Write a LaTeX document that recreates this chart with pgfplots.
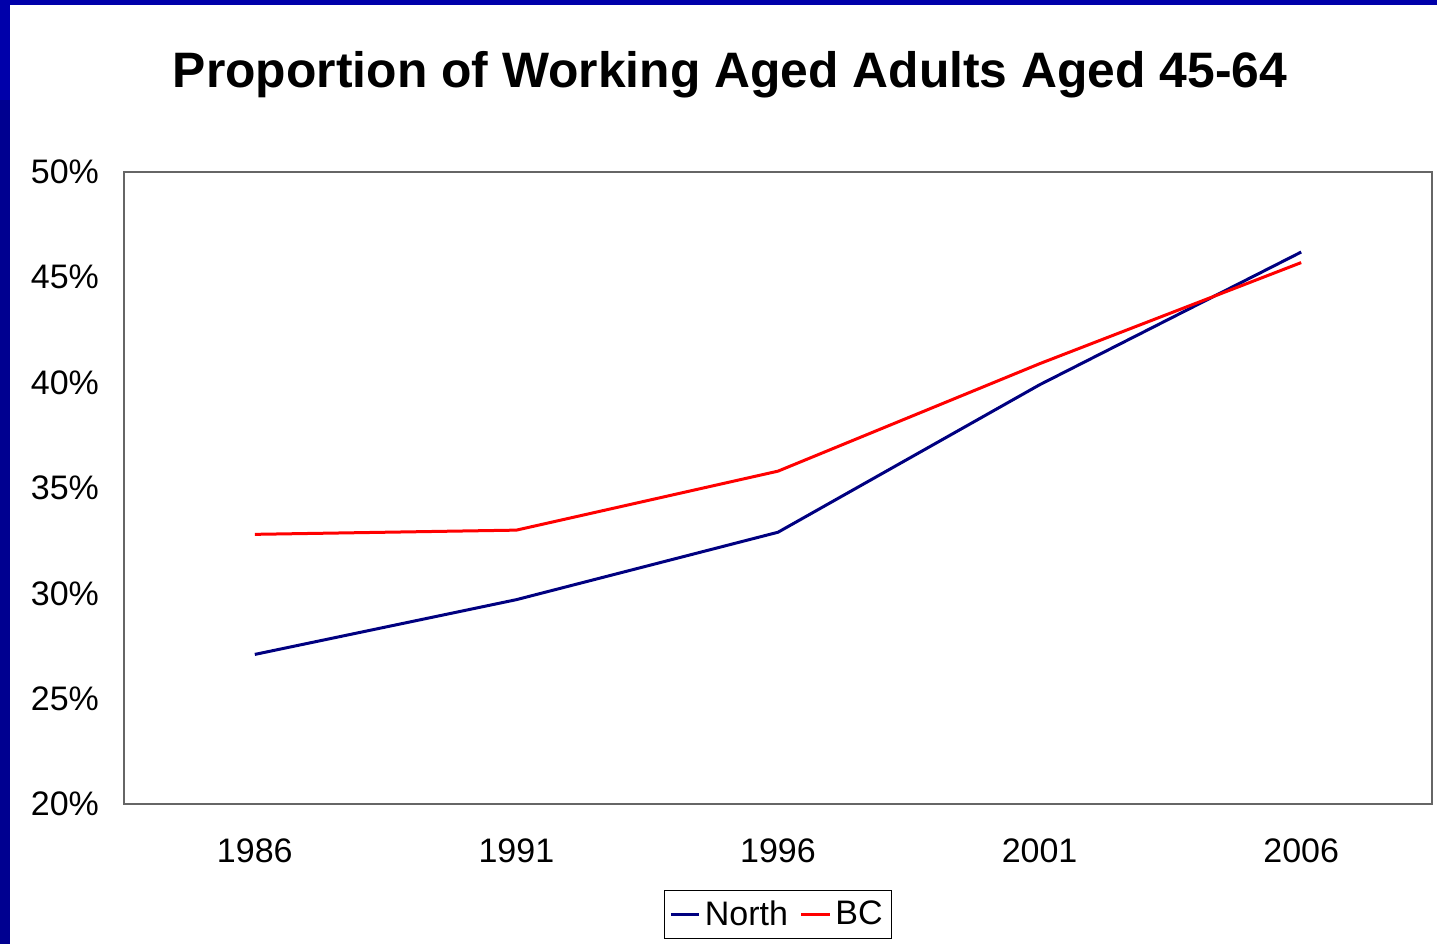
\documentclass[border=0pt]{standalone}
\usepackage{pgfplots}
\pgfplotsset{compat=1.18}
\usepackage{fontspec}
\setmainfont{Liberation Sans}

\definecolor{northblue}{HTML}{000080}
\definecolor{slideblue}{HTML}{0000AA}
\definecolor{slidenavy}{HTML}{000090}

\begin{document}
\begin{tikzpicture}
% page frame, 1px = 0.5pt
\path[use as bounding box] (-62pt,-70pt) rectangle (656.5pt,402pt);
\fill[slideblue] (-62pt,399.5pt) rectangle (656.5pt,402pt);
\fill[slideblue] (-62pt,352pt) rectangle (-57pt,402pt);
\fill[slidenavy] (-62pt,-70pt) rectangle (-57pt,352pt);
\node[font=\fontsize{24.9}{28}\selectfont\bfseries] at (303pt,364.5pt) {Proportion of Working Aged Adults Aged 45-64};
\begin{axis}[
  scale only axis, width=654pt, height=316pt,
  at={(0,0)}, anchor=south west,
  xmin=-0.5, xmax=4.5, ymin=20, ymax=50,
  xtick={0,1,2,3,4}, xticklabels={1986,1991,1996,2001,2006},
  ytick={20,25,30,35,40,45,50},
  yticklabels={20\%,25\%,30\%,35\%,40\%,45\%,50\%},
  major tick length=0pt,
  tick label style={font=\fontsize{17}{20}\selectfont},
  xticklabel style={yshift=-14pt},
  yticklabel style={xshift=-9pt},
  axis line style={draw=black!60, line width=0.6pt},
  legend columns=2,
  legend style={at={(0.5,-0.175)}, anchor=center, draw=black, line width=0.5pt,
    font=\fontsize{17}{20}\selectfont, inner xsep=2.5pt, inner ysep=3pt,
    /tikz/every even column/.append style={column sep=4pt}},
  legend image code/.code={\draw[#1] (0cm,0cm) -- (0.5cm,0cm);},
]
\addplot[northblue, line width=1.5pt] coordinates {(0,27.1) (1,29.7) (2,32.9) (3,39.9) (4,46.2)};
\addlegendentry{North}
\addplot[red, line width=1.5pt] coordinates {(0,32.8) (1,33.0) (2,35.8) (3,40.9) (4,45.7)};
\addlegendentry{BC}
\end{axis}
\end{tikzpicture}
\end{document}
